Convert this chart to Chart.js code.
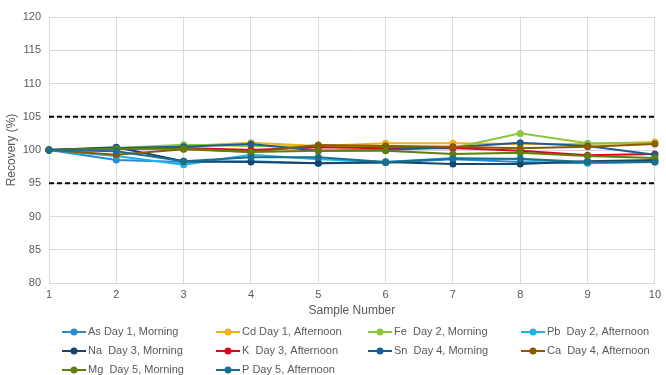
<!DOCTYPE html>
<html><head><meta charset="utf-8">
<script src="https://cdn.jsdelivr.net/npm/chart.js@4"></script>
<style>html,body{margin:0;padding:0;background:#fff;overflow:hidden}#wrap{width:666px;height:375px;position:relative;overflow:hidden}</style>
</head><body><div id="wrap"><canvas id="c" width="666" height="375"></canvas></div>
<script>
const categories = ['1','2','3','4','5','6','7','8','9','10'];
const seriesNames = ['As Day 1, Morning','Cd Day 1, Afternoon','Fe  Day 2, Morning','Pb  Day 2, Afternoon','Na  Day 3, Morning','K  Day 3, Afternoon','Sn  Day 4, Morning','Ca  Day 4, Afternoon','Mg  Day 5, Morning','P Day 5, Afternoon'];
const As = [100, 98.5, 98.2, 98.3, 98.0, 98.1, 98.6, 98.2, 98.0, 98.2];
const Cd = [100, 100.2, 100.6, 101.1, 100.6, 101.0, 101.0, 100.9, 100.9, 101.2];
const Fe = [100, 100.3, 100.8, 100.6, 100.5, 100.6, 100.3, 102.5, 101.0, 101.0];
const Pb = [100, 99.1, 97.8, 99.3, 98.6, 98.2, 98.8, 98.6, 98.1, 98.3];
const Na = [100, 100.4, 98.3, 98.2, 98.0, 98.2, 97.9, 97.9, 98.3, 98.5];
const K  = [100, 100.2, 100.3, 100.0, 100.4, 100.25, 100.3, 99.9, 99.2, 99.4];
const Sn = [100, 100.3, 100.5, 100.9, 99.9, 100.0, 100.4, 101.1, 100.6, 99.3];
const Ca = [100, 99.3, 100.1, 99.7, 100.75, 100.6, 100.5, 100.25, 100.5, 100.9];
const Mg = [100, 100.2, 100.2, 99.7, 99.9, 99.9, 99.4, 99.6, 99.1, 98.8];
const P  = [100, 99.8, 98.3, 98.9, 98.9, 98.2, 98.7, 98.7, 98.2, 98.2];
const upperLimit = [105,105,105,105,105,105,105,105,105,105];
const lowerLimit = [95,95,95,95,95,95,95,95,95,95];
const yTicks = [80,85,90,95,100,105,110,115,120];

const seriesValues = [As, Cd, Fe, Pb, Na, K, Sn, Ca, Mg, P];
const colors = ['#2a8ad6','#f0b020','#8cc63e','#22b0e6','#17456b','#e3001b','#1b5e93','#8a5a05','#5e7f0c','#1b6f8a'];

const datasets = seriesValues.map((v,i)=>({
  label: seriesNames[i], data: v, borderColor: colors[i], backgroundColor: colors[i],
  borderWidth: 2, pointRadius: 3.5, pointBorderWidth: 0, tension: 0, order: 20 - i
}));
datasets.push({label:'upper', data: upperLimit, borderColor:'#000', borderWidth:2, borderDash:[5,3], pointRadius:0, order:100});
datasets.push({label:'lower', data: lowerLimit, borderColor:'#000', borderWidth:2, borderDash:[5,3], pointRadius:0, order:100});

const legendPlugin = {
  id:'customLegend',
  afterDraw(chart){
    const ctx = chart.ctx;
    const cols = [62,216,368,521];
    const rows = [332,351,370];
    ctx.save();
    ctx.font = '11px "Liberation Sans", Arial, sans-serif';
    ctx.textBaseline = 'middle';
    seriesNames.forEach((name,i)=>{
      const x = cols[i%4], y = rows[Math.floor(i/4)];
      ctx.strokeStyle = colors[i]; ctx.lineWidth = 2;
      ctx.beginPath(); ctx.moveTo(x,y); ctx.lineTo(x+24,y); ctx.stroke();
      ctx.fillStyle = colors[i];
      ctx.beginPath(); ctx.arc(x+12,y,3.5,0,Math.PI*2); ctx.fill();
      ctx.fillStyle = '#595959';
      ctx.fillText(name, x+26, y);
    });
    ctx.restore();
  }
};

new Chart(document.getElementById('c'), {
  type:'line',
  data:{labels: categories, datasets},
  options:{
    responsive:false, animation:false,
    layout:{padding:{top:17,right:7,bottom:53,left:0}},
    plugins:{legend:{display:false}, tooltip:{enabled:false}},
    scales:{
      x:{
        offset:false,
        grid:{color:'#d9d9d9', lineWidth:1, drawTicks:false},
        border:{color:'#d9d9d9'},
        ticks:{color:'#595959', font:{family:'"Liberation Sans", Arial', size:11}, padding:5, maxRotation:0},
        title:{display:true, text:'Sample Number', color:'#595959', font:{family:'"Liberation Sans", Arial', size:12}},
        afterFit(s){ s.height = 39; }
      },
      y:{
        min:80, max:120,
        afterBuildTicks(s){ s.ticks = yTicks.map(v=>({value:v})); },
        grid:{color:'#d9d9d9', lineWidth:1, drawTicks:false},
        border:{color:'#d9d9d9'},
        ticks:{color:'#595959', font:{family:'"Liberation Sans", Arial', size:11}, padding:8},
        title:{display:true, text:'Recovery (%)', color:'#595959', font:{family:'"Liberation Sans", Arial', size:12}},
        afterFit(s){ s.width = 49; }
      }
    }
  },
  plugins:[legendPlugin]
});
</script></body></html>
